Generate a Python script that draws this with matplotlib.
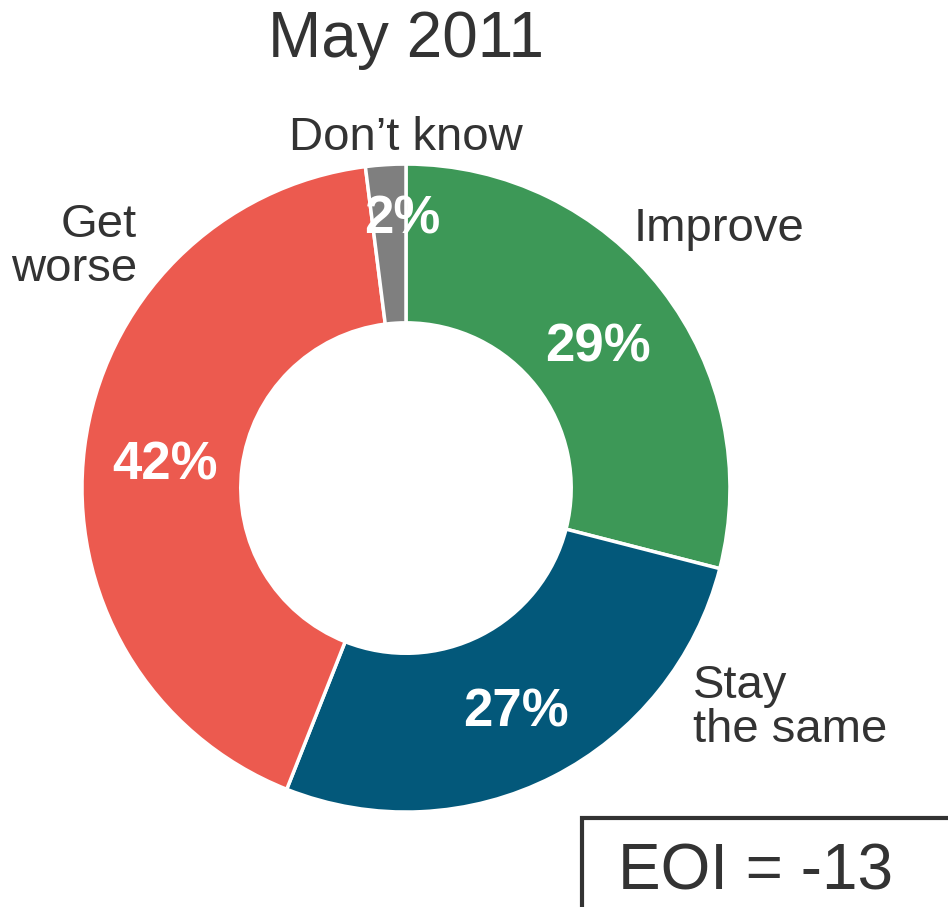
import matplotlib.pyplot as plt
from matplotlib.patches import Rectangle

title = 'May 2011'
categories = ['Improve', 'Stay the same', 'Get worse', "Don\u2019t know"]
values = [29, 27, 42, 2]
colors = ['#3d9857', '#03587a', '#ec5a4f', '#7f7f7f']
eoi_text = 'EOI = -13'

plt.rcParams['font.family'] = ['Liberation Sans', 'DejaVu Sans']
txt = '#333333'

fig = plt.figure(figsize=(9.48, 9.07), dpi=100)
ax = fig.add_axes([0.0865, 0.1047, 0.6835, 0.7144])

wedges, texts, autotexts = ax.pie(
    values, colors=colors, startangle=90, counterclock=False, radius=1,
    autopct='%d%%', pctdistance=0.75,
    wedgeprops=dict(width=0.49, edgecolor='white', linewidth=2.5),
    textprops=dict(color='white', fontsize=38, fontweight='bold'))
for t in autotexts:
    x, y = t.get_position()
    t.set_position((x, y - 0.025))
# the small slice label sits further out
autotexts[3].set_position((-0.01, 0.83))

ax.set_xlim(-1, 1)
ax.set_ylim(-1, 1)
ax.set_aspect('equal')
ax.axis('off')

ax.text(0.965, 0.80, 'Improve', ha='center', va='center', fontsize=34, color=txt)
ax.text(0.885, -0.68, 'Stay\nthe same', ha='left', va='center', fontsize=34,
        color=txt, linespacing=1.0)
ax.text(-0.83, 0.745, 'Get\nworse', ha='right', va='center', fontsize=34,
        color=txt, linespacing=1.0)
ax.text(0.0, 1.08, categories[3], ha='center', va='center', fontsize=34, color=txt)

fig.text(0.428, 0.956, title, ha='center', va='center', fontsize=46, color=txt)

fig.patches.append(Rectangle((0.614, -0.05), 0.5, 0.148, transform=fig.transFigure,
                             fill=False, edgecolor='#333333', linewidth=3))
fig.text(0.797, 0.038, eoi_text, ha='center', va='center', fontsize=46, color=txt)

fig.savefig('out.png', dpi=100)
